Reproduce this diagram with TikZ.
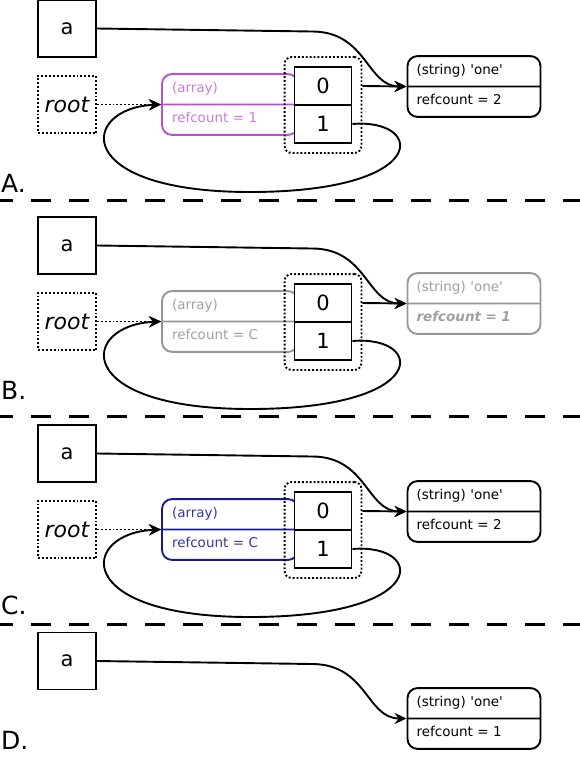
\documentclass[tikz,border=0pt]{standalone}
\usepackage{fontspec}
\setmainfont{DejaVu Sans}
\usetikzlibrary{arrows.meta,shapes.multipart,fit}

\definecolor{pinkline}{RGB}{185,80,210}
\definecolor{pinktext}{RGB}{195,125,220}
\definecolor{greyline}{RGB}{150,150,150}
\definecolor{greytext}{RGB}{160,160,160}
\definecolor{blueline}{RGB}{25,25,150}
\definecolor{bluetext}{RGB}{55,55,160}

\newcommand{\qt}{\textquotesingle}

\tikzset{
    lw/.style={line width=1.9pt},
    var/.style={draw, lw, minimum width=58pt, minimum height=57pt, inner sep=0pt, font=\fontsize{21}{25}\selectfont},
    rootvar/.style={var, dotted, font=\fontsize{22}{26}\selectfont\itshape},
    cell/.style={draw, lw, fill=white, minimum width=57pt, minimum height=38pt, inner sep=0pt, font=\fontsize{21}{25}\selectfont},
    cellframe/.style={draw, lw, dotted, rounded corners=7pt, inner sep=9pt},
    zval/.style={draw, lw, rounded corners=10pt, rectangle split, rectangle split parts=2, inner xsep=9pt, inner ysep=6.25pt, align=left, font=\fontsize{13.5}{16}\selectfont},
    strval/.style={zval, text width=115pt},
    arrval/.style={zval, text width=116pt, inner xsep=10pt},
    ptr/.style={lw, -{Stealth[length=12pt, width=11pt, inset=4pt]}},
    sep/.style={line width=3pt, dash pattern=on 20pt off 18pt},
    lab/.style={anchor=west, inner sep=0pt, font=\fontsize{25}{30}\selectfont}
}

\begin{document}
\begin{tikzpicture}[x=1pt, y=-1pt]
    \useasboundingbox (0,0) rectangle (579,768);

    % A.
    \begin{scope}
        \node[var] (a1) at (67,28.5) {a};
        \node[rootvar] (root1) at (67,104.5) {root};
        \node[arrval, draw=pinkline, text=pinktext] (arr1) at (230,104.5) {\strut(array)\nodepart{two}\strut refcount = 1};
        \node[cell] (zero1) at (323,86) {0};
        \node[cell] (one1) at (323,124) {1};
        \node[cellframe, fit=(zero1)(one1)] (cells1) {};
        \node[strval] (str1) at (474,86.5) {\strut(string) \qt one\qt\nodepart{two}\strut refcount = 2};
        \draw[ptr] (a1.east) -- ++(215,3) .. controls +(55,0) and +(-40,0) .. (str1.west);
        \draw[ptr] (cells1.east |- zero1.east) -- (str1.west);
        \draw[ptr, dotted] (root1.east) -- (arr1.west);
        \draw[ptr] (one1.east) .. controls (425,118) and (432,192) .. (250,192) .. controls (70,192) and (80,108) .. (arr1.west);
    \end{scope}

    % B.
    \begin{scope}[shift={(0,217)}]
        \node[var] (a2) at (67,28.5) {a};
        \node[rootvar] (root2) at (67,104.5) {root};
        \node[arrval, draw=greyline, text=greytext] (arr2) at (230,104.5) {\strut(array)\nodepart{two}\strut refcount = C};
        \node[cell] (zero2) at (323,86) {0};
        \node[cell] (one2) at (323,124) {1};
        \node[cellframe, fit=(zero2)(one2)] (cells2) {};
        \node[strval, draw=greyline, text=greytext] (str2) at (474,86.5) {\strut(string) \qt one\qt\nodepart{two}\strut\bfseries\itshape refcount = 1};
        \draw[ptr] (a2.east) -- ++(215,3) .. controls +(55,0) and +(-40,0) .. (str2.west);
        \draw[ptr] (cells2.east |- zero2.east) -- (str2.west);
        \draw[ptr, dotted] (root2.east) -- (arr2.west);
        \draw[ptr] (one2.east) .. controls (425,118) and (432,192) .. (250,192) .. controls (70,192) and (80,108) .. (arr2.west);
    \end{scope}

    % C.
    \begin{scope}[shift={(0,425)}]
        \node[var] (a3) at (67,28.5) {a};
        \node[rootvar] (root3) at (67,104.5) {root};
        \node[arrval, draw=blueline, text=bluetext] (arr3) at (230,104.5) {\strut(array)\nodepart{two}\strut refcount = C};
        \node[cell] (zero3) at (323,86) {0};
        \node[cell] (one3) at (323,124) {1};
        \node[cellframe, fit=(zero3)(one3)] (cells3) {};
        \node[strval] (str3) at (474,86.5) {\strut(string) \qt one\qt\nodepart{two}\strut refcount = 2};
        \draw[ptr] (a3.east) -- ++(215,3) .. controls +(55,0) and +(-40,0) .. (str3.west);
        \draw[ptr] (cells3.east |- zero3.east) -- (str3.west);
        \draw[ptr, dotted] (root3.east) -- (arr3.west);
        \draw[ptr] (one3.east) .. controls (425,118) and (432,192) .. (250,192) .. controls (70,192) and (80,108) .. (arr3.west);
    \end{scope}

    % D.
    \begin{scope}[shift={(0,633)}]
        \node[var] (a4) at (67,28) {a};
        \node[strval] (str4) at (474,85.5) {\strut(string) \qt one\qt\nodepart{two}\strut refcount = 1};
        \draw[ptr] (a4.east) -- ++(215,3) .. controls +(55,0) and +(-40,0) .. (str4.west);
    \end{scope}

    % separators and labels
    \draw[sep] (-7,200) -- (590,200);
    \draw[sep] (-7,416) -- (590,416);
    \draw[sep] (-7,624) -- (590,624);
    \node[lab] (labA) at (1,183) {A.};
    \node[lab] (labB) at (1,390) {B.};
    \node[lab] (labC) at (1,605) {C.};
    \node[lab] (labD) at (1,740) {D.};
\end{tikzpicture}
\end{document}
